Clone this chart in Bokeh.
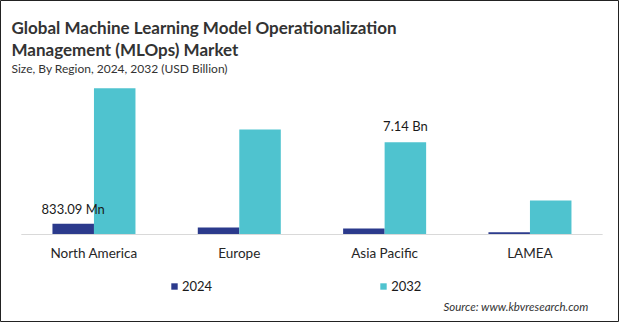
from bokeh.plotting import figure
from bokeh.models import Range1d, Label, Legend, LegendItem, ColumnDataSource
from bokeh.core.properties import value
from bokeh.embed import file_html
from bokeh.resources import INLINE
import numpy as np

# ---- data ----
regions = ["North America", "Europe", "Asia Pacific", "LAMEA"]
years = ["2024", "2032"]
values_2024 = [0.833, 0.54, 0.46, 0.18]
values_2032 = [11.31, 8.12, 7.14, 2.63]
label_2024 = ["833.09 Mn", "", "", ""]
label_2032 = ["", "", "7.14 Bn", ""]

title_1 = "Global Machine Learning Model Operationalization"
title_2 = "Management (MLOps) Market"
subtitle = "Size, By Region, 2024, 2032 (USD Billion)"
source_text = "Source: www.kbvresearch.com"

C24 = "#2b3a8c"
C32 = "#4fc3cf"
FONT = "Lato"

W, H = 619, 322
p = figure(width=W, height=H, output_backend="svg", toolbar_location=None,
           x_range=Range1d(-0.1431, 4.1161), y_range=Range1d(-6.806, 18.097),
           min_border=0, min_border_left=0, min_border_right=0,
           min_border_top=0, min_border_bottom=0)
p.axis.visible = False
p.grid.visible = False
p.background_fill_color = "white"
p.border_fill_color = "white"
p.outline_line_color = "#222222"
p.outline_line_width = 1

n = len(regions)
bw = 0.2856
centers = np.arange(n) + 0.5
src = ColumnDataSource(dict(
    x24=centers - bw / 2, x32=centers + bw / 2,
    v24=values_2024, v32=values_2032,
    l24=label_2024, l32=label_2032,
    cx=centers, zero=[0] * n, name=regions))

r24 = p.vbar(x="x24", top="v24", bottom=0, width=bw, source=src,
             fill_color=C24, line_color=None)
r32 = p.vbar(x="x32", top="v32", bottom=0, width=bw, source=src,
             fill_color=C32, line_color=None)

# baseline axis line
p.segment(x0=[0], y0=[0], x1=[n], y1=[0], line_color="#d9d9d9", line_width=1)

# category labels
p.text(x="cx", y="zero", text="name", source=src, y_offset=19,
       text_align="center", text_baseline="middle",
       text_font=value(FONT), text_font_size="13.5px", text_color="#262626")

# data labels
p.text(x="x24", y="v24", text="l24", source=src, y_offset=-15,
       text_align="center", text_baseline="alphabetic",
       text_font=value(FONT), text_font_size="13px", text_color="#1a1a1a")
p.text(x="x32", y="v32", text="l32", source=src, y_offset=-16,
       text_align="center", text_baseline="alphabetic",
       text_font=value(FONT), text_font_size="13px", text_color="#1a1a1a")

# titles
for txt, ytop, size, style in [(title_1, 27, "17px", "bold"),
                               (title_2, 49, "17px", "bold"),
                               (subtitle, 68, "12px", "normal")]:
    p.add_layout(Label(x=11, y=H - ytop, x_units="screen", y_units="screen",
                       text=txt, text_font=FONT, text_font_size=size,
                       text_font_style=style, text_color="#333333",
                       text_baseline="alphabetic"))

p.add_layout(Label(x=588, y=H - 306, x_units="screen", y_units="screen",
                   text=source_text, text_font=FONT, text_font_size="11.5px",
                   text_font_style="italic", text_color="#333333",
                   text_align="right", text_baseline="alphabetic"))

legend = Legend(items=[LegendItem(label=years[0], renderers=[r24]),
                       LegendItem(label=years[1], renderers=[r32])],
                orientation="horizontal", location=(170, 28),
                padding=0, margin=0, spacing=167,
                glyph_width=8, glyph_height=8, label_standoff=4,
                label_height=8, label_width=20,
                label_text_font=FONT, label_text_font_size="13px",
                label_text_color="#1a1a1a",
                border_line_color=None, background_fill_alpha=0)
p.add_layout(legend, "center")

open("out.html", "w").write(file_html(p, INLINE))
